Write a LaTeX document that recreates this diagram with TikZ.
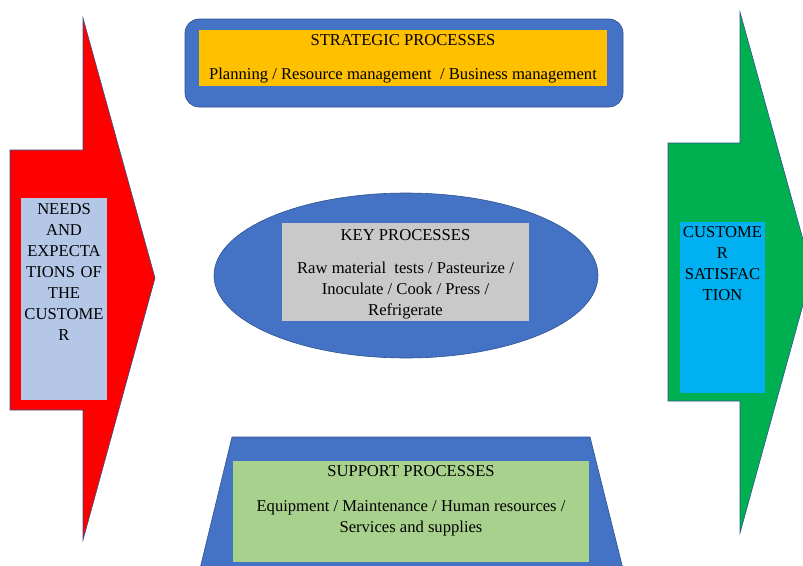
\documentclass[tikz,border=0pt]{standalone}
\usepackage{fontspec}
\setmainfont{Liberation Serif}

\definecolor{arrowred}{HTML}{FF0000}
\definecolor{needsblue}{HTML}{B4C7E7}
\definecolor{satgreen}{HTML}{00B050}
\definecolor{satcyan}{HTML}{00B0F0}
\definecolor{procblue}{HTML}{4472C4}
\definecolor{edgeblue}{HTML}{2F528F}
\definecolor{stratyellow}{HTML}{FFC000}
\definecolor{keygrey}{HTML}{C9C9C9}
\definecolor{supgreen}{HTML}{A9D18E}

\tikzset{
  outline/.style={draw=edgeblue, line width=0.6pt},
  panel/.style={anchor=north west, inner sep=0pt, outer sep=0pt},
  txt/.style={anchor=north, inner sep=0pt, align=center, font=\fontsize{16.6}{21}\selectfont},
}

\begin{document}
\begin{tikzpicture}[x=1pt,y=-1pt]
\clip (0,0) rectangle (803,565);
% needs of the customer
\draw [outline, fill=arrowred] (10,150) -- (83,150) -- (83,18) -- (155,278) -- (83,540) -- (83,410) -- (10,410) -- cycle;
\node [panel, fill=needsblue, minimum width=86pt, minimum height=202pt] (needsbox) at (21,198) {};
\node [txt, text width=86pt] (needs) at (64,203) {NEEDS\\AND\\EXPECTA\\TIONS OF\\THE\\CUSTOME\\R};
% customer satisfaction
\draw [outline, fill=satgreen] (668,143) -- (740,143) -- (740,12) -- (812,272) -- (740,533) -- (740,401) -- (668,401) -- cycle;
\node [panel, fill=satcyan, minimum width=85pt, minimum height=171pt] (satbox) at (680,222) {};
\node [txt, text width=85pt] (sat) at (722.5,226) {CUSTOME\\R\\SATISFAC\\TION};
% strategic
\draw [outline, fill=procblue, rounded corners=14pt] (185,19) rectangle (623,107);
\node [panel, fill=stratyellow, minimum width=408pt, minimum height=56pt] (stratbox) at (199,30) {};
\node [txt] (strattitle) at (403,34.5) {STRATEGIC PROCESSES};
\node [txt] (strat) at (403,67.5) {Planning / Resource management~ / Business management};
% key
\draw [outline, fill=procblue] (406,275.5) ellipse [x radius=192pt, y radius=82.5pt];
\node [panel, fill=keygrey, minimum width=247pt, minimum height=98pt] (keybox) at (282,223) {};
\node [txt] (keytitle) at (405.5,229) {KEY PROCESSES};
\node [txt] (key) at (405.5,262) {Raw material~ tests / Pasteurize /\\Inoculate / Cook / Press /\\Refrigerate};
% support
\draw [outline, fill=procblue] (232,437) -- (590,437) -- (625,577) -- (198,577) -- cycle;
\node [panel, fill=supgreen, minimum width=356pt, minimum height=101pt] (supbox) at (233,461) {};
\node [txt] (suptitle) at (411,465) {SUPPORT PROCESSES};
\node [txt] (sup) at (411,500) {Equipment / Maintenance / Human resources /\\Services and supplies};
\end{tikzpicture}
\end{document}
